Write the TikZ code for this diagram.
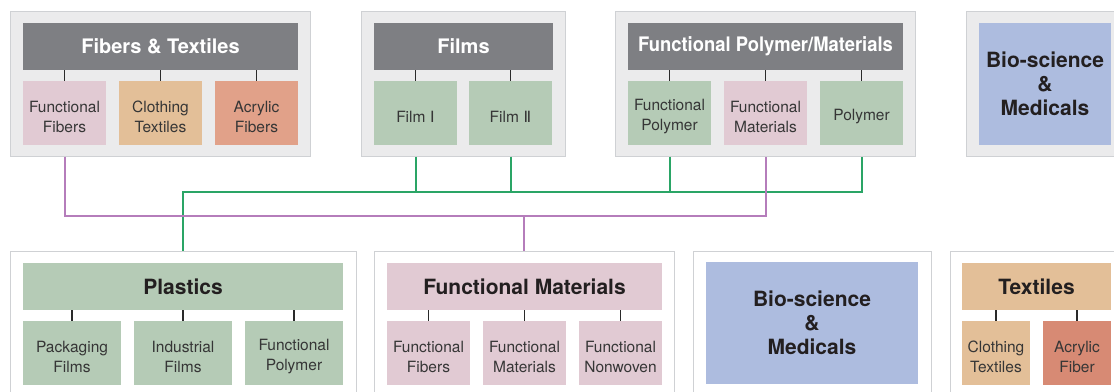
\documentclass[tikz,border=0pt]{standalone}
\usepackage{graphicx}
\usepackage{fontspec}
\setmainfont{TeX Gyre Heros}
\newfontfamily\numfont{DejaVu Sans}
\definecolor{grpfill}{HTML}{EBEBEC}
\definecolor{grpline}{HTML}{CFD1D4}
\definecolor{hdrgray}{HTML}{7E7F83}
\definecolor{pinkc}{HTML}{E1CAD3}
\definecolor{tanc}{HTML}{E3BF98}
\definecolor{salmonc}{HTML}{E1A189}
\definecolor{salmondk}{HTML}{D78A74}
\definecolor{greenc}{HTML}{B5CBB6}
\definecolor{bluec}{HTML}{ADBCDF}
\definecolor{celltext}{HTML}{363636}
\definecolor{boldtext}{HTML}{231F20}
\definecolor{tickc}{HTML}{2A2A2A}
\definecolor{linegreen}{HTML}{2AA566}
\definecolor{linepurple}{HTML}{B57DBB}
\tikzset{
  grp/.style={draw=grpline, line width=1pt, fill=grpfill, inner sep=0pt},
  grpw/.style={draw=grpline, line width=1pt, fill=white, inner sep=0pt},
  hdr/.style={fill=hdrgray, text=white, inner sep=0pt, minimum height=47pt,
    font=\bfseries\fontsize{20}{24}\selectfont},
  bhdr/.style={text=boldtext, inner sep=0pt, minimum height=47pt,
    font=\bfseries\fontsize{21}{24}\selectfont},
  ctext/.style={inner sep=0pt, text=celltext, align=center, yshift=-3.5pt,
    font=\fontsize{15.5}{20}\selectfont},
  cell/.style={inner sep=0pt, minimum height=64pt, label={[ctext]center:{#1}}},
  bio/.style={fill=bluec, text=boldtext, inner sep=0pt, align=center,
    minimum height=122pt, font=\bfseries\fontsize{21}{24}\selectfont},
  tick/.style={draw=tickc, line width=1.1pt},
  gline/.style={draw=linegreen, line width=2pt},
  pline/.style={draw=linepurple, line width=2pt},
}
\begin{document}
\begin{tikzpicture}[x=1pt,y=-1pt]
\clip (0,0) rectangle (1114,391);
\fill[white] (0,0) rectangle (1114,391);

% ---------- upper row ----------
% Fibers & Textiles
\node[grp, minimum width=300pt, minimum height=144.5pt] (g1) at (160,83.75) {};
\node[hdr, minimum width=275pt] (h1) at (160.5,46.5) {Fibers \& Textiles};
\node[cell={Functional\\Fibers}, fill=pinkc, minimum width=83pt] (c11) at (64.5,113) {};
\node[cell={Clothing\\Textiles}, fill=tanc, minimum width=83pt] (c12) at (160.5,113) {};
\node[cell={Acrylic\\Fibers}, fill=salmonc, minimum width=83pt] (c13) at (256.5,113) {};

% Films
\node[grp, minimum width=204pt, minimum height=144.5pt] (g2) at (463,83.75) {};
\node[hdr, minimum width=179pt] (h2) at (463.5,46.5) {Films};
\node[cell={Film\hspace{0.3em}{\numfont Ⅰ}}, fill=greenc, minimum width=83pt] (c21) at (415.5,113) {};
\node[cell={Film\hspace{0.3em}{\numfont Ⅱ}}, fill=greenc, minimum width=83pt] (c22) at (510.5,113) {};

% Functional Polymer/Materials
\node[grp, minimum width=300pt, minimum height=144.5pt] (g3) at (765.3,83.75) {};
\node[hdr, minimum width=275pt] (h3) at (765.5,46.5) {\scalebox{0.92}[1]{Functional Polymer/Materials}};
\node[cell={Functional\\Polymer}, fill=greenc, minimum width=83pt] (c31) at (669.5,113) {};
\node[cell={Functional\\Materials}, fill=pinkc, minimum width=83pt] (c32) at (765.5,113) {};
\node[cell={Polymer}, fill=greenc, minimum width=83pt] (c33) at (861.5,113) {};

% Bio-science & Medicals
\node[grp, minimum width=158pt, minimum height=144.5pt] (g4) at (1045,83.75) {};
\node[bio, minimum width=132pt] (b4) at (1045,84) {Bio-science\\\&\\Medicals};

\foreach \c/\h in {c11/h1,c12/h1,c13/h1,c21/h2,c22/h2,c31/h3,c32/h3,c33/h3}
  \draw[tick] (\c.north) -- (\c.north |- \h.south);

% ---------- lower row ----------
% Plastics
\node[grpw, minimum width=345.3pt, minimum height=145pt] (ga) at (183.35,323.5) {};
\node[bhdr, fill=greenc, minimum width=320pt] (ha) at (183,286.5) {Plastics};
\node[cell={Packaging\\Films}, fill=greenc, minimum width=98pt] (ca1) at (72,353) {};
\node[cell={Industrial\\Films}, fill=greenc, minimum width=98pt] (ca2) at (183,353) {};
\node[cell={Functional\\Polymer}, fill=greenc, minimum width=98pt] (ca3) at (294,353) {};

% Functional Materials
\node[grpw, minimum width=300pt, minimum height=145pt] (gb) at (524,323.5) {};
\node[bhdr, fill=pinkc, minimum width=275pt] (hb) at (524.5,286.5) {Functional Materials};
\node[cell={Functional\\Fibers}, fill=pinkc, minimum width=83pt] (cb1) at (428.5,353) {};
\node[cell={Functional\\Materials}, fill=pinkc, minimum width=83pt] (cb2) at (524.5,353) {};
\node[cell={Functional\\Nonwoven}, fill=pinkc, minimum width=83pt] (cb3) at (620.5,353) {};

% Bio-science & Medicals
\node[grpw, minimum width=238pt, minimum height=145pt] (gc) at (812,323.5) {};
\node[bio, minimum width=212pt] (bc) at (812,323) {Bio-science\\\&\\Medicals};

% Textiles
\node[grpw, minimum width=173pt, minimum height=145pt] (gd) at (1036.5,323.5) {};
\node[bhdr, fill=tanc, minimum width=149pt] (hd) at (1036.5,286.5) {Textiles};
\node[cell={Clothing\\Textiles}, fill=tanc, minimum width=68pt] (cd1) at (996,353) {};
\node[cell={Acrylic\\Fiber}, fill=salmondk, minimum width=68pt] (cd2) at (1077,353) {};

\foreach \c/\h in {ca1/ha,ca2/ha,ca3/ha,cb1/hb,cb2/hb,cb3/hb,cd1/hd,cd2/hd}
  \draw[tick] (\c.north) -- (\c.north |- \h.south);

% ---------- links between the rows ----------
\coordinate (gbus) at (0,192);
\coordinate (pbus) at (0,215.5);

% film and polymer lines into Plastics
\draw[gline] (ga.north) -- (ga.north |- gbus) -- (c33.south |- gbus) -- (c33.south |- g3.south);
\draw[gline] (c21.south |- g2.south) -- (c21.south |- gbus);
\draw[gline] (c22.south |- g2.south) -- (c22.south |- gbus);
\draw[gline] (c31.south |- g3.south) -- (c31.south |- gbus);

% functional fibers and materials into Functional Materials
\draw[pline] (c11.south |- g1.south) -- (c11.south |- pbus) -- (c32.south |- pbus) -- (c32.south |- g3.south);
\draw[pline] (gb.north) -- (gb.north |- pbus);
\end{tikzpicture}
\end{document}
